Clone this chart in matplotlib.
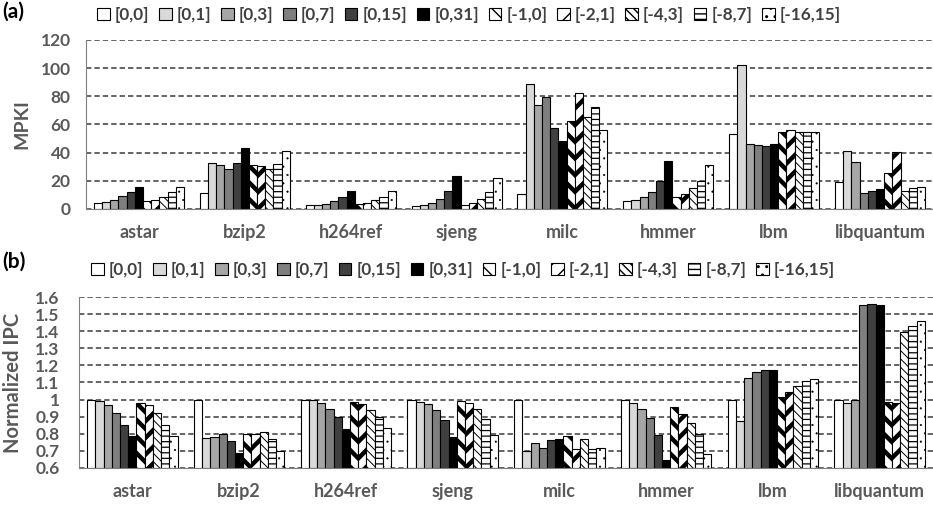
import matplotlib
matplotlib.use("Agg")
import matplotlib.pyplot as plt
from matplotlib import font_manager
import numpy as np
from matplotlib.patches import Patch


def pick_family(prefs):
    for fam in prefs:
        for f in font_manager.fontManager.ttflist:
            w = f.weight if isinstance(f.weight, int) else 400
            if f.name == fam and w >= 650 and f.style == "normal":
                return fam
    return "DejaVu Sans"


FAM = pick_family(["Lato", "Open Sans", "Roboto", "Noto Sans", "Liberation Sans"])
plt.rcParams['font.family'] = [FAM, 'DejaVu Sans']

benchmarks = ["astar", "bzip2", "h264ref", "sjeng", "milc", "hmmer", "lbm", "libquantum"]
series = ["[0,0]", "[0,1]", "[0,3]", "[0,7]", "[0,15]", "[0,31]",
          "[-1,0]", "[-2,1]", "[-4,3]", "[-8,7]", "[-16,15]"]

mpki_00 = [4.3, 11.3, 2.6, 1.9, 10.4, 5.4, 53.0, 18.9]
mpki_01 = [4.7, 32.6, 2.6, 2.8, 89.1, 6.1, 102.4, 41.4]
mpki_03 = [6.4, 31.2, 3.8, 4.3, 73.5, 8.3, 45.9, 33.1]
mpki_07 = [9.0, 28.4, 5.4, 7.3, 79.7, 12.0, 45.2, 11.6]
mpki_015 = [11.8, 32.6, 8.3, 12.8, 57.2, 20.1, 44.7, 12.9]
mpki_031 = [15.6, 43.5, 12.5, 23.6, 48.2, 34.3, 46.3, 14.4]
mpki_m10 = [5.4, 31.0, 3.5, 2.8, 62.2, 8.7, 54.4, 25.5]
mpki_m21 = [6.4, 30.3, 4.0, 4.0, 82.7, 11.0, 56.0, 40.2]
mpki_m43 = [8.7, 28.6, 6.1, 6.9, 65.5, 14.7, 54.6, 12.9]
mpki_m87 = [11.8, 32.2, 8.5, 12.3, 72.3, 20.1, 54.6, 14.7]
mpki_m1615 = [15.4, 40.9, 12.5, 22.2, 56.0, 31.2, 54.6, 15.8]

ipc_00 = [1.0, 1.0, 1.0, 1.0, 1.0, 1.0, 1.0, 1.0]
ipc_01 = [0.993, 0.772, 0.997, 0.987, 0.700, 0.980, 0.872, 0.980]
ipc_03 = [0.970, 0.780, 0.978, 0.974, 0.747, 0.944, 1.124, 0.997]
ipc_07 = [0.919, 0.800, 0.944, 0.937, 0.717, 0.893, 1.160, 1.553]
ipc_015 = [0.849, 0.758, 0.900, 0.878, 0.762, 0.792, 1.171, 1.563]
ipc_031 = [0.788, 0.686, 0.829, 0.782, 0.766, 0.645, 1.171, 1.557]
ipc_m10 = [0.978, 0.800, 0.984, 0.991, 0.788, 0.958, 1.017, 0.986]
ipc_m21 = [0.966, 0.800, 0.972, 0.978, 0.708, 0.915, 1.042, 0.980]
ipc_m43 = [0.921, 0.810, 0.939, 0.946, 0.766, 0.864, 1.081, 1.394]
ipc_m87 = [0.850, 0.768, 0.900, 0.886, 0.710, 0.798, 1.110, 1.432]
ipc_m1615 = [0.788, 0.700, 0.831, 0.790, 0.714, 0.678, 1.119, 1.459]

mpki = [mpki_00, mpki_01, mpki_03, mpki_07, mpki_015, mpki_031,
        mpki_m10, mpki_m21, mpki_m43, mpki_m87, mpki_m1615]
ipc = [ipc_00, ipc_01, ipc_03, ipc_07, ipc_015, ipc_031,
       ipc_m10, ipc_m21, ipc_m43, ipc_m87, ipc_m1615]

mpki_ticks = [0, 20, 40, 60, 80, 100, 120]
ipc_ticks = [0.6, 0.7, 0.8, 0.9, 1.0, 1.1, 1.2, 1.3, 1.4, 1.5, 1.6]
ipc_ticklabels = ["0.6", "0.7", "0.8", "0.9", "1", "1.1", "1.2", "1.3", "1.4", "1.5", "1.6"]

# style per series: facecolor, hatch, hatch linewidth
styles = [
    ("white", None, 0.8),
    ("#d9d9d9", None, 0.8),
    ("#a6a6a6", None, 0.8),
    ("#7f7f7f", None, 0.8),
    ("#404040", None, 0.8),
    ("black", None, 0.8),
    ("white", "\\\\", 3.2),
    ("white", "//", 3.2),
    ("white", "\\\\\\\\", 0.7),
    ("white", "---", 0.9),
    ("white", "..", 0.3),
]

TXT = "#595959"
LEG = "#404040"

fig = plt.figure(figsize=(9.33, 5.05), dpi=100)
ax1 = fig.add_axes([86/933, 1-209/505, (933-86)/933, (209-40)/505])
ax2 = fig.add_axes([79/933, 1-467.7/505, (933-79)/933, (467.7-297.3)/505])

x = np.arange(len(benchmarks))
gw = 0.85
w = gw / len(series)


def draw(ax, data, bottom):
    handles = []
    for i, (vals, (fc, hatch, hlw)) in enumerate(zip(data, styles)):
        pos = x - gw/2 + w*(i+0.5)
        with plt.rc_context({'hatch.linewidth': hlw, 'hatch.color': 'black'}):
            heights = [v - bottom for v in vals]
            bars = ax.bar(pos, heights, width=w, bottom=bottom, facecolor=fc,
                          edgecolor="black", linewidth=0.8, hatch=hatch, zorder=3)
            for b in bars:
                if hasattr(b, "set_hatch_linewidth"):
                    b.set_hatch_linewidth(hlw)
            hp = Patch(facecolor=fc, edgecolor="black", linewidth=0.8,
                       hatch=hatch, label=series[i])
            if hasattr(hp, "set_hatch_linewidth"):
                hp.set_hatch_linewidth(min(hlw, 1.5))
            handles.append(hp)
    ax.set_xlim(-0.5, len(benchmarks)-0.5)
    ax.set_xticks(x)
    ax.set_xticklabels(benchmarks, fontsize=13, fontweight="bold", color=TXT)
    ax.tick_params(axis="x", length=0, pad=11)
    ax.tick_params(axis="y", length=0, labelsize=12.5, labelcolor=TXT)
    ax.yaxis.grid(True, linestyle=(0, (3.5, 2)), color="#3a3a3a", linewidth=1.1, zorder=0)
    ax.set_axisbelow(True)
    for s in ["top", "right"]:
        ax.spines[s].set_visible(False)
    ax.spines["left"].set_color("#808080")
    ax.spines["bottom"].set_color("#808080")
    ax.spines["bottom"].set_zorder(4)
    return handles


h1 = draw(ax1, mpki, 0)
ax1.set_ylim(0, 120)
ax1.set_yticks(mpki_ticks)
ax1.set_yticklabels([str(t) for t in mpki_ticks], fontweight="bold")
ax1.tick_params(axis="y", pad=11)
ax1.set_ylabel("MPKI", fontsize=14, fontweight="bold", color=TXT)
ax1.yaxis.set_label_coords(-0.066, 0.5)

h2 = draw(ax2, ipc, 0.6)
ax2.set_ylim(0.6, 1.6)
ax2.set_yticks(ipc_ticks)
ax2.set_yticklabels(ipc_ticklabels, fontweight="bold")
ax2.tick_params(axis="y", pad=14)
ax2.set_ylabel("Normalized IPC", fontsize=14.5, fontweight="bold", color=TXT)
ax2.yaxis.set_label_coords(-0.066, 0.5)

for handles, ypos, xpos in [(h1, 1-15/505, 97/933), (h2, 1-270/505, 91/933)]:
    leg = fig.legend(handles=handles, loc="center left", bbox_to_anchor=(xpos, ypos),
                     ncol=11, frameon=False, handlelength=0.75, handleheight=0.75,
                     handletextpad=0.3, columnspacing=0.55, borderpad=0, borderaxespad=0,
                     prop={'size': 12.3, 'weight': 'bold'})
    for t in leg.get_texts():
        t.set_color(LEG)

fig.text(2/933, 1-12/505, "(a)", fontsize=15, fontweight="bold", va="center", ha="left")
fig.text(2/933, 1-262/505, "(b)", fontsize=15, fontweight="bold", va="center", ha="left")

fig.savefig("out.png", dpi=100)
